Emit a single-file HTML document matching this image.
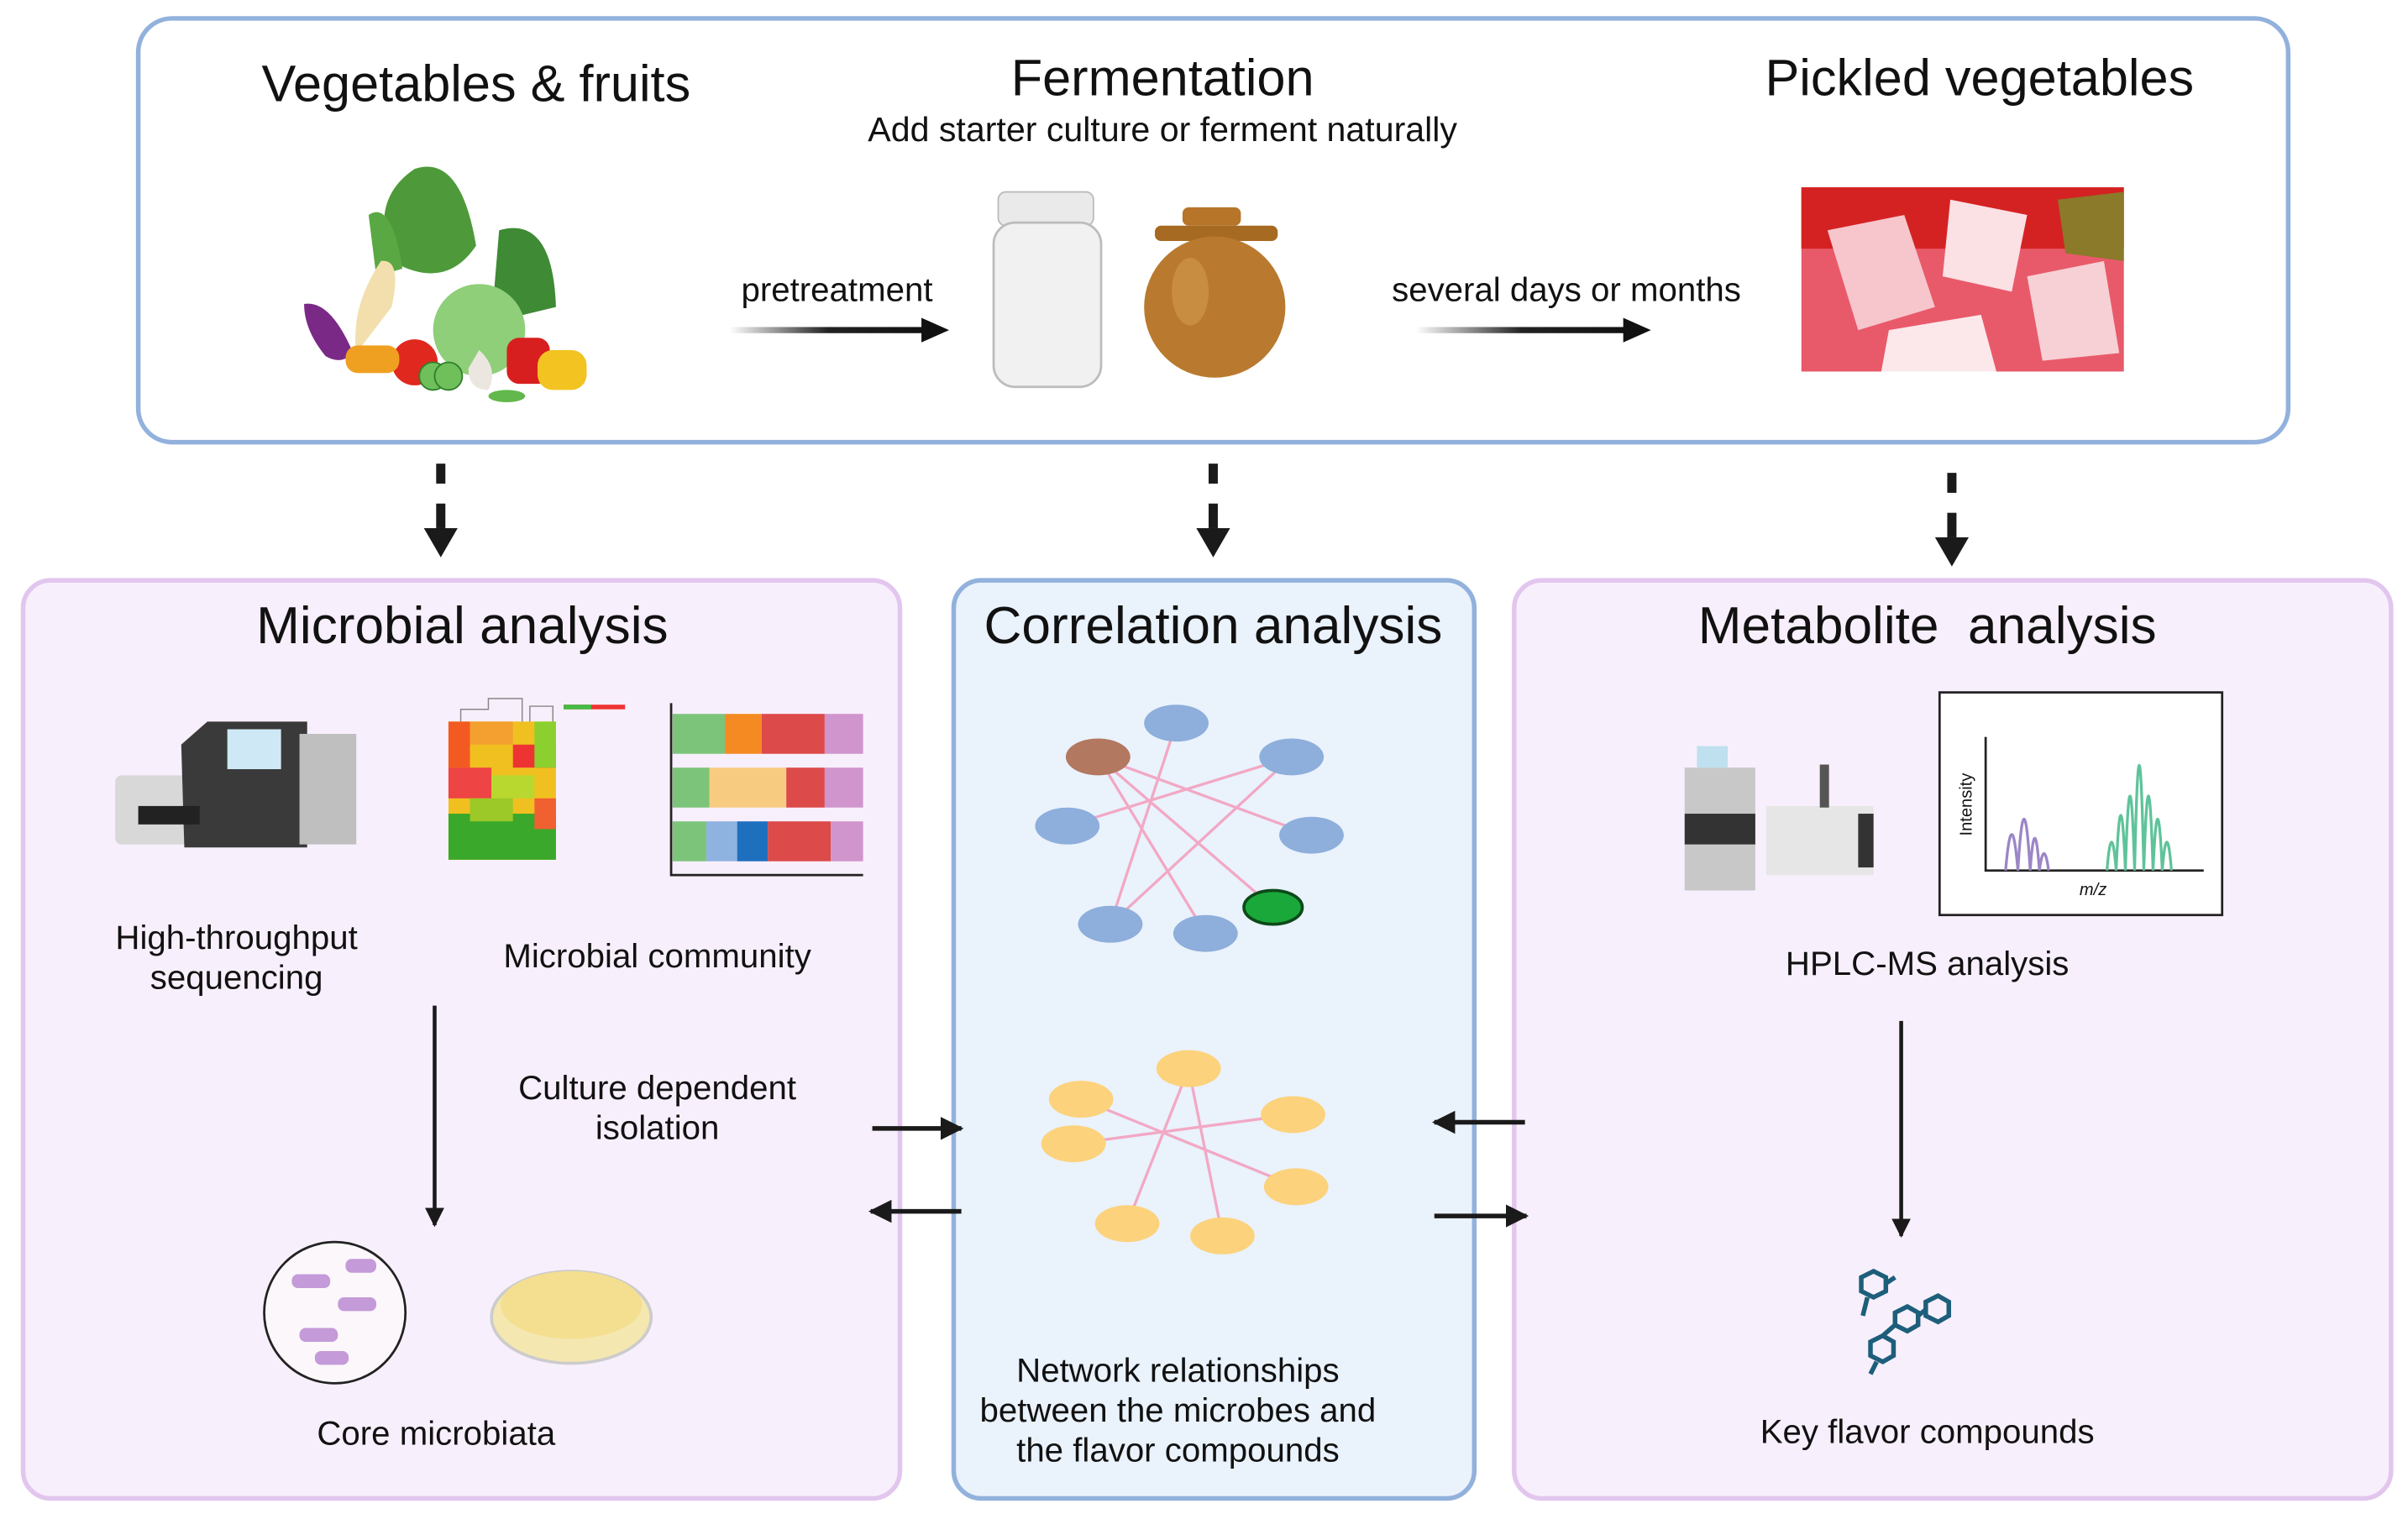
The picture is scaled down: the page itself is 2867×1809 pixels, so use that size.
<!DOCTYPE html>
<html><head><meta charset="utf-8"><style>
html,body{margin:0;padding:0;background:#fff;}
svg{display:block;font-family:"Liberation Sans",sans-serif;}
</style></head><body>
<svg width="2867" height="1809" viewBox="0 0 1568 989.4" xmlns="http://www.w3.org/2000/svg">
<defs>
<linearGradient id="ga" x1="0" x2="1"><stop offset="0" stop-color="#fff"/><stop offset="0.5" stop-color="#222"/><stop offset="1" stop-color="#111"/></linearGradient>
<marker id="ah" viewBox="0 0 10 10" refX="9" refY="5" markerWidth="5" markerHeight="5" orient="auto"><path d="M0,0L10,5L0,10z" fill="#1a1a1a"/></marker>
</defs>
<rect x="90" y="12" width="1400" height="276" rx="22" fill="#fff" stroke="#92b1dc" stroke-width="3"/>
<g font-size="33.5" text-anchor="middle" fill="#111">
<text x="310" y="66">Vegetables &amp; fruits</text>
<text x="757" y="62">Fermentation</text>
<text x="1289" y="62">Pickled vegetables</text>
</g>
<text x="757" y="92" font-size="22.5" text-anchor="middle" fill="#111">Add starter culture or ferment naturally</text>
<text x="545" y="196" font-size="22" text-anchor="middle" fill="#111">pretreatment</text>
<text x="1020" y="196" font-size="22" text-anchor="middle" fill="#111">several days or months</text>
<rect x="475" y="213" width="128" height="4" fill="url(#ga)"/><path d="M600,207L618,215L600,223z" fill="#111"/>
<rect x="922" y="213" width="138" height="4" fill="url(#ga)"/><path d="M1057,207L1075,215L1057,223z" fill="#111"/>
<g>
<path d="M270,110 Q300,100 310,160 Q290,190 255,170 Q240,130 270,110z" fill="#4e9a3a"/>
<path d="M240,140 Q255,130 262,175 L245,180z" fill="#5aa843"/>
<path d="M325,150 Q360,140 362,200 L320,210z" fill="#3e8a35"/>
<path d="M248,170 Q262,168 255,200 L232,230 Q228,200 248,170z" fill="#f3dfae"/>
<path d="M198,198 Q215,195 230,230 Q222,238 212,232 Q198,215 198,198z" fill="#7a2a86"/>
<circle cx="312" cy="215" r="30" fill="#8fcf7a"/>
<circle cx="270" cy="236" r="15" fill="#e0281e"/>
<rect x="225" y="225" width="35" height="18" rx="8" fill="#f0a020"/>
<circle cx="282" cy="245" r="9" fill="#6fbf5a" stroke="#2f7f2a"/>
<circle cx="292" cy="245" r="9" fill="#6fbf5a" stroke="#2f7f2a"/>
<path d="M312,228 Q325,240 318,254 Q305,254 305,240z" fill="#ece6e0"/>
<rect x="330" y="220" width="28" height="30" rx="8" fill="#d81f1f"/>
<rect x="350" y="228" width="32" height="26" rx="10" fill="#f2c321"/>
<ellipse cx="330" cy="258" rx="12" ry="4" fill="#62b84c"/>
</g>
<rect x="650" y="125" width="62" height="22" rx="5" fill="#eaeaea" stroke="#bbb"/>
<rect x="647" y="145" width="70" height="107" rx="14" fill="#f1f1f1" stroke="#bcbcbc" stroke-width="1.5"/>
<rect x="770" y="135" width="38" height="12" rx="4" fill="#b7752a"/>
<rect x="752" y="147" width="80" height="10" rx="4" fill="#a66a22"/>
<ellipse cx="791" cy="200" rx="46" ry="46" fill="#b97a2f"/>
<ellipse cx="775" cy="190" rx="12" ry="22" fill="#d49a50" opacity="0.6"/>
<rect x="1173" y="122" width="210" height="120" fill="#e85a6a"/>
<rect x="1173" y="122" width="210" height="40" fill="#d42222"/>
<path d="M1190,150 L1240,140 L1260,200 L1210,215z" fill="#f6c6cc"/>
<path d="M1270,130 L1320,140 L1310,190 L1265,180z" fill="#fbe0e4"/>
<path d="M1320,180 L1370,170 L1380,230 L1330,235z" fill="#f6d0d4"/>
<path d="M1230,215 L1290,205 L1300,242 L1225,242z" fill="#fce8ea"/>
<path d="M1340,130 L1383,125 L1383,170 L1345,165z" fill="#8a7a2a"/>
<g fill="#1a1a1a">
<rect x="284" y="302" width="6" height="13"/><rect x="284" y="328" width="6" height="16"/><path d="M276,344L298,344L287,363z"/>
<rect x="787" y="302" width="6" height="13"/><rect x="787" y="328" width="6" height="16"/><path d="M779,344L801,344L790,363z"/>
<rect x="1268" y="308" width="6" height="13"/><rect x="1268" y="334" width="6" height="16"/><path d="M1260,350L1282,350L1271,369z"/>
</g>
<rect x="15" y="378" width="571" height="598" rx="18" fill="#f8effc" stroke="#e2c6ee" stroke-width="3"/>
<rect x="621" y="378" width="339" height="598" rx="18" fill="#eaf2fc" stroke="#92b1dc" stroke-width="3"/>
<rect x="986" y="378" width="571" height="598" rx="18" fill="#f8effc" stroke="#e2c6ee" stroke-width="3"/>
<g font-size="34" text-anchor="middle" fill="#111">
<text x="301" y="419">Microbial analysis</text>
<text x="790" y="419">Correlation analysis</text>
<text x="1255" y="419" xml:space="preserve">Metabolite  analysis</text>
</g>
<g font-size="22" text-anchor="middle" fill="#111">
<text x="154" y="618">High-throughput</text><text x="154" y="644">sequencing</text>
<text x="428" y="630">Microbial community</text>
<text x="428" y="716">Culture dependent</text><text x="428" y="742">isolation</text>
<text x="284" y="941">Core microbiata</text>
<text x="767" y="900">Network relationships</text>
<text x="767" y="926">between the microbes and</text>
<text x="767" y="952">the flavor compounds</text>
<text x="1255" y="635">HPLC-MS analysis</text>
<text x="1255" y="940">Key flavor compounds</text>
</g>
<rect x="75" y="505" width="60" height="45" rx="4" fill="#d8d8d8"/>
<path d="M118,485 L135,470 L200,470 L200,552 L120,552z" fill="#3a3a3a"/>
<rect x="148" y="475" width="35" height="26" fill="#cfe8f5"/>
<rect x="195" y="478" width="37" height="72" fill="#bfbfbf"/>
<rect x="90" y="525" width="40" height="12" fill="#222"/>
<g>
<rect x="292" y="470" width="70" height="90" fill="#f0c020"/>
<rect x="292" y="470" width="14" height="30" fill="#f25a22"/>
<rect x="306" y="470" width="28" height="15" fill="#f3a030"/>
<rect x="334" y="485" width="28" height="15" fill="#e33"/>
<rect x="292" y="500" width="28" height="20" fill="#e44"/>
<rect x="320" y="505" width="28" height="15" fill="#b8d830"/>
<rect x="348" y="470" width="14" height="30" fill="#8cd030"/>
<rect x="292" y="530" width="70" height="30" fill="#3aa82a"/>
<rect x="306" y="520" width="28" height="15" fill="#9cc828"/>
<rect x="348" y="520" width="14" height="20" fill="#f06030"/>
<path d="M300,470V462H318V455H340V470M345,470V460H360V470" fill="none" stroke="#888" stroke-width="0.8"/>
<rect x="367" y="459" width="40" height="3" fill="#e33"/>
<rect x="367" y="459" width="18" height="3" fill="#4b4"/>
</g>
<path d="M437,458V570H562" fill="none" stroke="#222" stroke-width="1.5"/>
<rect x="438" y="465" width="34" height="26" fill="#7cc47a"/><rect x="472" y="465" width="24" height="26" fill="#f58a22"/><rect x="496" y="465" width="41" height="26" fill="#dc4a4a"/><rect x="537" y="465" width="25" height="26" fill="#d095cc"/>
<rect x="438" y="500" width="24" height="26" fill="#7cc47a"/><rect x="462" y="500" width="50" height="26" fill="#f8cc80"/><rect x="512" y="500" width="25" height="26" fill="#dc4a4a"/><rect x="537" y="500" width="25" height="26" fill="#d095cc"/>
<rect x="438" y="535" width="22" height="26" fill="#7cc47a"/><rect x="460" y="535" width="20" height="26" fill="#8fb3e0"/><rect x="480" y="535" width="20" height="26" fill="#1f6fbf"/><rect x="500" y="535" width="41" height="26" fill="#dc4a4a"/><rect x="541" y="535" width="21" height="26" fill="#d095cc"/>
<circle cx="218" cy="855" r="46" fill="#fbf7fb" stroke="#222" stroke-width="1.5"/>
<g fill="#c49ad8"><rect x="190" y="830" width="25" height="9" rx="4"/><rect x="220" y="845" width="25" height="9" rx="4"/><rect x="195" y="865" width="25" height="9" rx="4"/><rect x="225" y="820" width="20" height="9" rx="4"/><rect x="205" y="880" width="22" height="9" rx="4"/></g>
<ellipse cx="372" cy="858" rx="52" ry="30" fill="#f5e7b0" stroke="#ccc" stroke-width="2"/>
<ellipse cx="372" cy="850" rx="46" ry="22" fill="#f4df90"/>
<line x1="283" y1="655" x2="283" y2="798" stroke="#1a1a1a" stroke-width="2.5" marker-end="url(#ah)"/>
<line x1="1238" y1="665" x2="1238" y2="805" stroke="#1a1a1a" stroke-width="2.5" marker-end="url(#ah)"/>
<g stroke="#1a1a1a" stroke-width="3" marker-end="url(#ah)">
<line x1="568" y1="735" x2="626" y2="735"/>
<line x1="626" y1="789" x2="567" y2="789"/>
<line x1="993" y1="731" x2="934" y2="731"/>
<line x1="934" y1="792" x2="994" y2="792"/>
</g>
<g stroke="#f2a8c4" stroke-width="1.8">
<line x1="715" y1="493" x2="785" y2="608"/><line x1="715" y1="493" x2="829" y2="591"/><line x1="715" y1="493" x2="854" y2="544"/>
<line x1="766" y1="471" x2="723" y2="602"/><line x1="841" y1="493" x2="695" y2="538"/><line x1="841" y1="493" x2="723" y2="602"/>
</g>
<g fill="#8eaedb">
<ellipse cx="766" cy="471" rx="21" ry="12"/><ellipse cx="841" cy="493" rx="21" ry="12"/><ellipse cx="695" cy="538" rx="21" ry="12"/><ellipse cx="854" cy="544" rx="21" ry="12"/><ellipse cx="723" cy="602" rx="21" ry="12"/><ellipse cx="785" cy="608" rx="21" ry="12"/>
</g>
<ellipse cx="715" cy="493" rx="21" ry="12" fill="#b37860"/>
<ellipse cx="829" cy="591" rx="19" ry="11" fill="#1aa83a" stroke="#0c4a18" stroke-width="2"/>
<g stroke="#f2a8c4" stroke-width="1.8">
<line x1="774" y1="696" x2="734" y2="797"/><line x1="774" y1="696" x2="796" y2="805"/><line x1="704" y1="716" x2="844" y2="773"/><line x1="699" y1="745" x2="842" y2="726"/>
</g>
<g fill="#fcd27c">
<ellipse cx="774" cy="696" rx="21" ry="12"/><ellipse cx="704" cy="716" rx="21" ry="12"/><ellipse cx="842" cy="726" rx="21" ry="12"/><ellipse cx="699" cy="745" rx="21" ry="12"/><ellipse cx="844" cy="773" rx="21" ry="12"/><ellipse cx="734" cy="797" rx="21" ry="12"/><ellipse cx="796" cy="805" rx="21" ry="12"/>
</g>
<rect x="1097" y="500" width="46" height="80" fill="#c8c8c8"/>
<rect x="1097" y="530" width="46" height="20" fill="#333"/>
<rect x="1105" y="486" width="20" height="14" fill="#bfe0ee"/>
<rect x="1150" y="525" width="70" height="45" fill="#e6e6e6"/>
<rect x="1185" y="498" width="6" height="28" fill="#555"/>
<rect x="1210" y="530" width="10" height="35" fill="#333"/>
<rect x="1263" y="451" width="184" height="145" fill="#fff" stroke="#222" stroke-width="1.5"/>
<path d="M1293,480V567H1435" fill="none" stroke="#222" stroke-width="1.5"/>
<text transform="translate(1284,524) rotate(-90)" font-size="11" text-anchor="middle" fill="#111">Intensity</text>
<text x="1363" y="583" font-size="11" font-style="italic" text-anchor="middle" fill="#111">m/z</text>
<path d="M1306,567 Q1310,520 1314,567 Q1318,500 1322,567 Q1325,525 1328,567 Q1331,545 1334,567" fill="none" stroke="#9b86c6" stroke-width="1.8"/>
<path d="M1372,567 Q1375,530 1378,567 Q1381,495 1384,567 Q1387,470 1390,567 Q1393,430 1396,567 Q1399,470 1402,567 Q1405,500 1408,567 Q1411,530 1414,567" fill="none" stroke="#5fc39a" stroke-width="1.8"/>
<g fill="none" stroke="#1d5f7a" stroke-width="3">
<polygon points="1212,832 1220,828 1228,832 1228,841 1220,845 1212,841"/>
<line x1="1228" y1="836" x2="1234" y2="832"/><line x1="1216" y1="845" x2="1213" y2="857"/>
<polygon points="1234,855 1242,851 1249,855 1249,863 1242,867 1234,863"/>
<polygon points="1254,848 1262,844 1269,848 1269,857 1262,861 1254,857"/>
<line x1="1249" y1="857" x2="1254" y2="853"/>
<polygon points="1218,874 1226,870 1233,874 1233,883 1226,887 1218,883"/>
<line x1="1226" y1="870" x2="1234" y2="863"/><line x1="1222" y1="887" x2="1218" y2="895"/>
</g>
</svg>
</body></html>
